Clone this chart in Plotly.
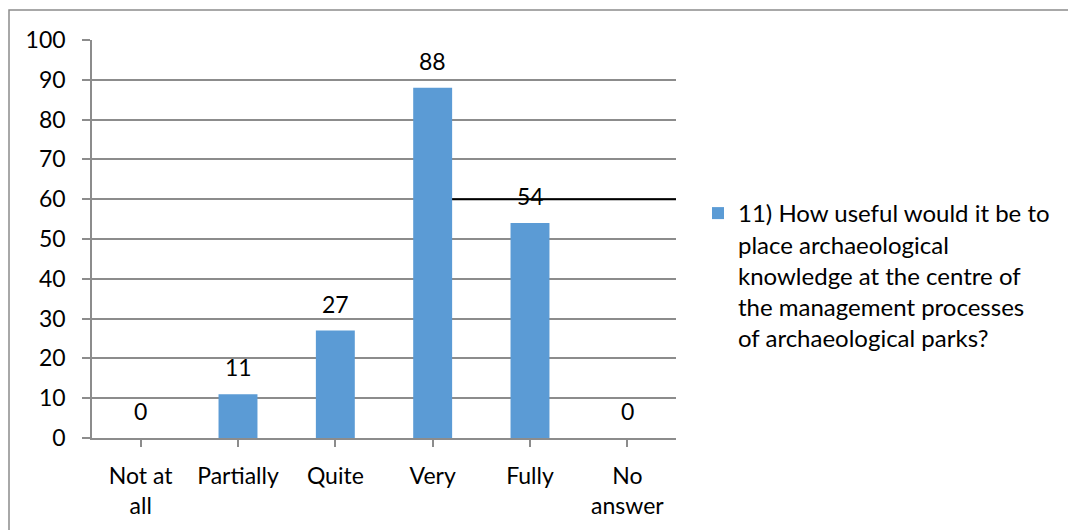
import plotly.graph_objects as go

categories = ["Not at<br>all", "Partially", "Quite", "Very", "Fully", "No<br>answer"]
values = [0, 11, 27, 88, 54, 0]
series_name = "11) How useful would it be to<br>place archaeological<br>knowledge at the centre of<br>the management processes<br>of archaeological parks?"
y_ticks = [0, 10, 20, 30, 40, 50, 60, 70, 80, 90, 100]
ref_line_value = 60

FONT = "Lato"
# page body has an 8px margin, so the figure is placed at (8, 8)
OFF = 8
W, H = 1076, 530
L, T = 92 - OFF, 40 - OFF
pw, ph = 584, 398
R, B = W - L - pw, H - T - ph

fig = go.Figure()
fig.add_trace(go.Bar(
    x=list(range(len(categories))), y=values, name=series_name,
    marker=dict(color="#5B9BD5", line=dict(width=0)),
    width=0.4, showlegend=True,
))

for i, v in enumerate(values):
    fig.add_annotation(x=i, y=v, text=str(v), showarrow=False, yanchor="bottom",
                       yshift=11, font=dict(family=FONT, size=23, color="#000000"))

# black reference segment at 60
fig.add_shape(type="line", xref="x", yref="y", x0=3.2, x1=5.5,
              y0=ref_line_value, y1=ref_line_value,
              line=dict(color="#000000", width=2), layer="above")

# outer border (right and bottom edges fall outside the window)
fig.add_shape(type="rect", xref="paper", yref="paper",
              x0=(1 - L) / pw, x1=(W + 40 - L) / pw,
              y0=-(H + 40 - (T + ph)) / ph, y1=1 + (T - 2) / ph,
              line=dict(color="#8c8c8c", width=1.5), fillcolor="rgba(0,0,0,0)")

fig.update_layout(
    width=W, height=H,
    margin=dict(l=L, r=R, t=T, b=B, autoexpand=False),
    paper_bgcolor="white", plot_bgcolor="white",
    font=dict(family=FONT, size=23, color="#000000"),
    showlegend=True,
    legend=dict(x=(690 - L) / pw, y=1 - (183 - T) / ph, xanchor="left", yanchor="top",
                font=dict(family=FONT, size=24, color="#000000"),
                itemwidth=30, valign="top", bgcolor="rgba(0,0,0,0)", tracegroupgap=0),
    xaxis=dict(
        tickmode="array", tickvals=list(range(len(categories))), ticktext=categories,
        range=[-0.5, len(categories) - 0.5],
        showgrid=False, showline=True, linecolor="#8c8c8c", linewidth=1.5,
        ticks="outside", ticklen=7, tickcolor="#8c8c8c", tickwidth=1.5,
        tickfont=dict(family=FONT, size=23, color="#000000"),
        ticklabelstandoff=10,
    ),
    yaxis=dict(
        range=[0, 100], tickmode="array", tickvals=y_ticks,
        showgrid=True, gridcolor="#8c8c8c", gridwidth=1.5,
        showline=True, linecolor="#8c8c8c", linewidth=1.5,
        ticks="outside", ticklen=8, tickcolor="#8c8c8c", tickwidth=1.5,
        tickfont=dict(family=FONT, size=23, color="#000000"),
        ticklabelstandoff=12, zeroline=False,
    ),
)

# tick marks at category boundaries
fig.update_xaxes(tickson="boundaries")

fig.write_html("out.html")
